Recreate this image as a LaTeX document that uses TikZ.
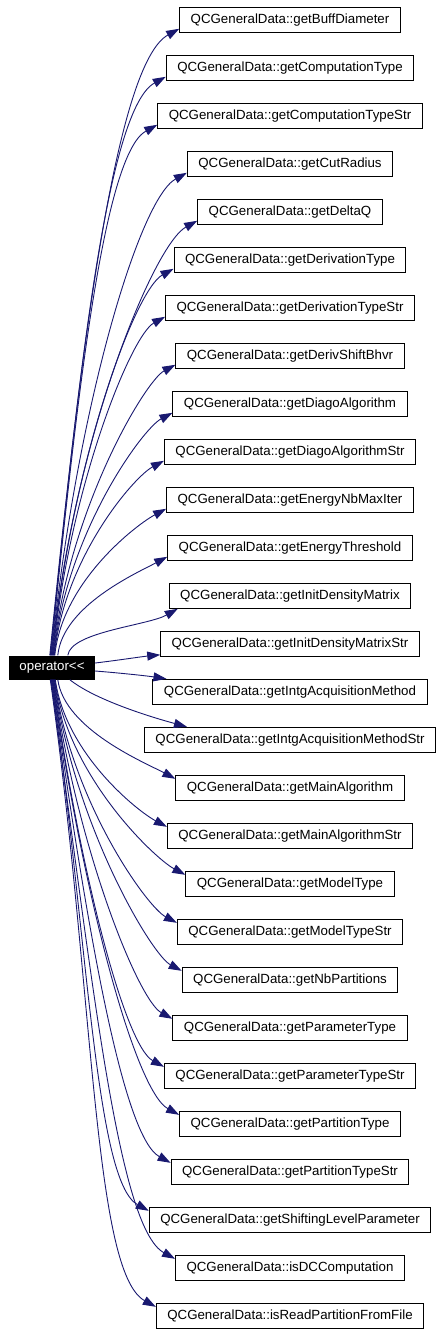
\documentclass[tikz,border=0pt]{standalone}
\usepackage{fontspec}
\setmainfont{Liberation Sans}
\usetikzlibrary{arrows.meta,calc}
\definecolor{edgecol}{HTML}{191970}
\begin{document}
\begin{tikzpicture}[x=1pt,y=-1pt,
  fn/.style={draw=black,line width=1pt,fill=white,font=\fontsize{13.3}{15}\selectfont,inner xsep=11pt,inner ysep=0pt,minimum height=25pt},
  opn/.style={fill=black,text=white,font=\fontsize{13.3}{15}\selectfont,minimum width=86pt,minimum height=24pt,inner sep=0pt},
  edge/.style={draw=edgecol,line width=0.9pt,-{Triangle[length=13pt,width=9pt]}}]
\useasboundingbox (0,0) rectangle (443,1333);
\node[opn] (op) at (52,667.5) {operator<\kern0pt<};
\foreach \n [count=\i] in {getBuffDiameter,getComputationType,getComputationTypeStr,getCutRadius,getDeltaQ,getDerivationType,getDerivationTypeStr,getDerivShiftBhvr,getDiagoAlgorithm,getDiagoAlgorithmStr,getEnergyNbMaxIter,getEnergyThreshold,getInitDensityMatrix,getInitDensityMatrixStr,getIntgAcquisitionMethod,getIntgAcquisitionMethodStr,getMainAlgorithm,getMainAlgorithmStr,getModelType,getModelTypeStr,getNbPartitions,getParameterType,getParameterTypeStr,getPartitionType,getPartitionTypeStr,getShiftingLevelParameter,isDCComputation,isReadPartitionFromFile}
  \node[fn] (b\i) at (290,{19.8+48*(\i-1)}) {QCGeneralData::\n};
% upward edges
\foreach \i in {1,...,12}{
  \pgfmathsetmacro\D{647-19.8-48*(\i-1)}
  \pgfmathsetmacro\ax{0.05*\D}
  \pgfmathsetmacro\ay{-0.5*\D}
  \pgfmathsetmacro\bx{-max(0.1*\D,30)}
  \pgfmathsetmacro\by{max(0.055*\D,16)}
  \pgfmathsetmacro\sx{\i<12 ? 41+0.5*(\i-1) : 49}
  \draw[edge] ($(op.north west)+(\sx,0)$) .. controls +(\ax,\ay) and +(\bx,\by) .. ($(b\i.south west)+(0,-4)$);
}
% downward edges
\foreach \i in {17,...,28}{
  \pgfmathsetmacro\D{19.8+48*(\i-1)-688}
  \pgfmathsetmacro\ax{0.07*\D}
  \pgfmathsetmacro\ay{0.5*\D}
  \pgfmathsetmacro\bx{-max(0.1*\D,30)}
  \pgfmathsetmacro\by{-max(0.055*\D,16)}
  \pgfmathsetmacro\sx{\i==17 ? 49 : 46.5-0.5*(\i-18)}
  \draw[edge] ($(op.south west)+(\sx,0)$) .. controls +(\ax,\ay) and +(\bx,\by) .. ($(b\i.north west)+(0,4)$);
}
% near edges
\draw[edge] ($(op.north west)+(59,0)$) .. controls +(3,-23.5) and +(-30,16.7) .. ($(b13.south west)+(9,0)$);
\draw[edge] ($(op.east)+(0,-4.5)$) .. controls +(25,-3) and +(-20,2) .. ($(b14.south west)+(0,-2)$);
\draw[edge] ($(op.east)+(0,3.5)$) .. controls +(25,2) and +(-20,-3) .. ($(b15.north west)+(14,0)$);
\draw[edge] ($(op.south west)+(61,0)$) .. controls +(25,20) and +(-37,-10) .. ($(b16.north west)+(43,0)$);
\end{tikzpicture}
\end{document}
